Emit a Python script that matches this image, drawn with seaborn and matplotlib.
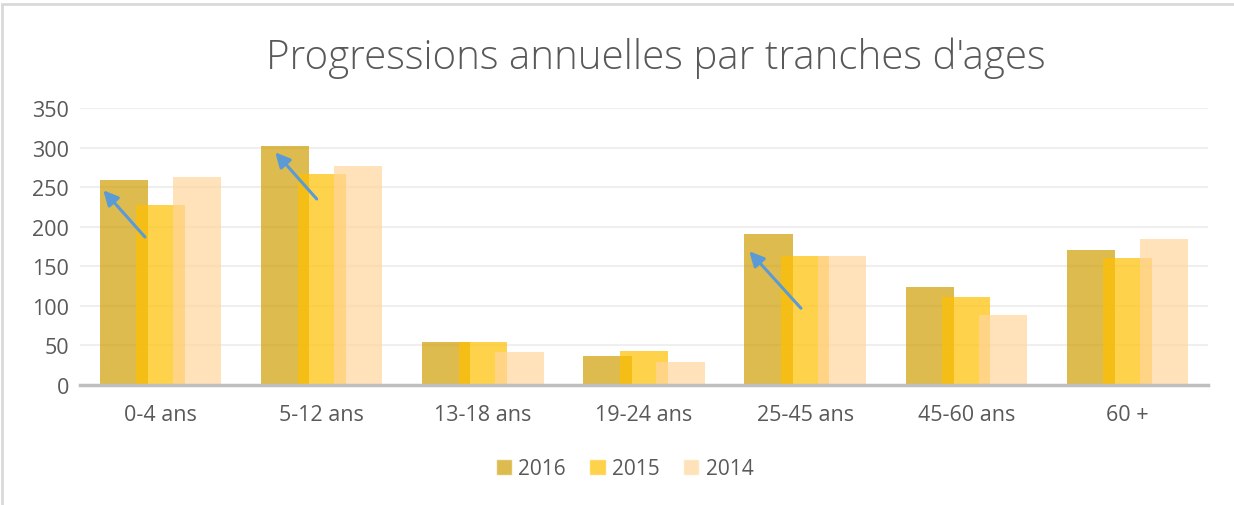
import numpy as np
import pandas as pd
import matplotlib.pyplot as plt
import seaborn as sns
from matplotlib.lines import Line2D

# data
categories = ['0-4 ans', '5-12 ans', '13-18 ans', '19-24 ans', '25-45 ans', '45-60 ans', '60 +']
years = ['2016', '2015', '2014']
v2016 = [259, 302, 54, 37, 191, 124, 171]
v2015 = [228, 267, 54, 43, 163, 111, 161]
v2014 = [263, 277, 42, 29, 163, 88, 185]

colors = ['#D19E04', '#FFC000', '#FFD69C']
series = dict(zip(years, [v2016, v2015, v2014]))

sns.set_style('white')
plt.rcParams['font.family'] = ['Open Sans', 'DejaVu Sans']

fig = plt.figure(figsize=(12.34, 5.06), dpi=100)
ax = fig.add_axes([80/1234, 1-386/506, 1128/1234, 277/506])

idx = np.arange(len(categories))
width = 0.30
step = 0.227
for i, yr in enumerate(years):
    df = pd.DataFrame({'x': idx + (i-1)*step, 'y': series[yr]})
    sns.barplot(data=df, x='x', y='y', native_scale=True, orient='x',
                width=width, color=colors[i], alpha=0.7, saturation=1,
                linewidth=0, ax=ax)

ax.set_xlim(-0.5, len(categories) - 0.5)
ax.set_ylim(0, 350)
ax.set_yticks(range(0, 351, 50))
ax.set_xticks(idx)
ax.set_xticklabels(categories)
ax.set_xlabel('')
ax.set_ylabel('')
ax.tick_params(axis='both', length=0, labelsize=15.5, labelcolor='#595959')
ax.tick_params(axis='x', pad=14)
ax.tick_params(axis='y', pad=8)
ax.yaxis.grid(True, color='#EFEFEF', lw=1.5)
ax.set_axisbelow(True)
for s in ['top', 'right', 'left']:
    ax.spines[s].set_visible(False)
ax.spines['bottom'].set_color('#BFBFBF')
ax.spines['bottom'].set_linewidth(2.5)
ax.spines['bottom'].set_zorder(5)

# arrows
arrows = [((-0.097, 187), (-0.355, 246)),
          ((0.969, 235), (0.712, 294)),
          ((3.974, 97), (3.653, 169))]
for tail, tip in arrows:
    ax.annotate('', xy=tip, xytext=tail,
                arrowprops=dict(arrowstyle='-|>', color='#5B9BD5', lw=2.2,
                                mutation_scale=22, shrinkA=0, shrinkB=0))

fig.text(656/1234, 1-58/506, "Progressions annuelles par tranches d'ages",
         ha='center', va='center', fontsize=29, color='#595959', fontweight='light')

handles = [plt.Rectangle((0, 0), 1, 1, facecolor=c, alpha=0.7) for c in colors]
fig.legend(handles, years, loc='center', bbox_to_anchor=(0.506, 1-470/506), ncol=3,
           frameon=False, fontsize=15, labelcolor='#595959', handlelength=0.8,
           handleheight=0.8, handletextpad=0.3, columnspacing=1.1)

# chart border
fig.add_artist(Line2D([1.5/1234, 1.5/1234], [0, 1-4.5/506], color='#D9D9D9', lw=2))
fig.add_artist(Line2D([1.5/1234, 1], [1-4.5/506, 1-4.5/506], color='#D9D9D9', lw=2))

fig.savefig('out.png', dpi=100)
